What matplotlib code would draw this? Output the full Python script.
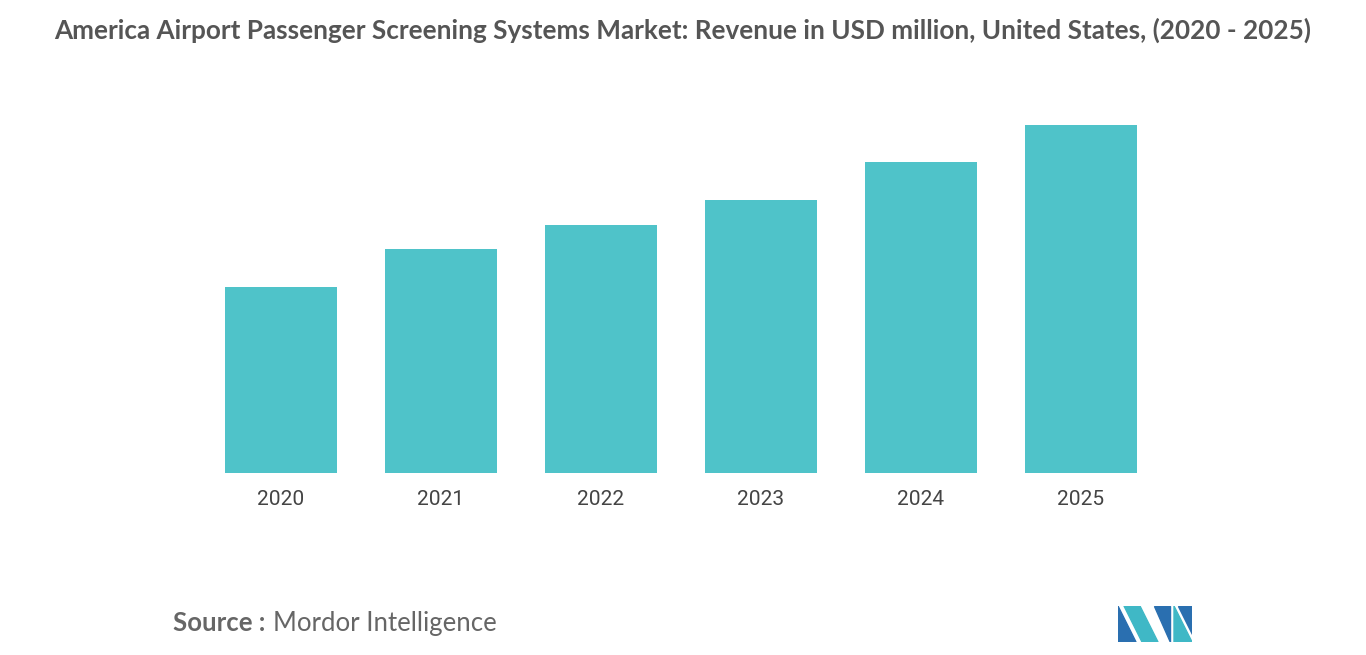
import matplotlib.pyplot as plt
from matplotlib.patches import Polygon

# Data (relative revenue)
years = ["2020", "2021", "2022", "2023", "2024", "2025"]
revenue = [186, 224, 248, 273, 311, 348]

W, H = 1366, 655
fig = plt.figure(figsize=(W / 100, H / 100), dpi=100)

# axes placed in pixel terms: x 201..1161, y 125..473
ax = fig.add_axes([201 / W, (H - 473) / H, 960 / W, 348 / H])
ax.bar(range(len(years)), revenue, width=0.7, color="#4fc3c9")
ax.set_xlim(-0.5, len(years) - 0.5)
ax.set_ylim(0, 348)
ax.set_xticks(range(len(years)))
ax.set_xticklabels(years, fontsize=15, color="#444444", fontname="Roboto")
ax.tick_params(axis="x", length=0, pad=12)
ax.set_yticks([])
for s in ax.spines.values():
    s.set_visible(False)

fig.text(683 / W, 1 - 30 / H,
         "America Airport Passenger Screening Systems Market: Revenue in USD million, United States, (2020 - 2025)",
         ha="center", va="center", fontsize=18.8, fontweight="bold", color="#555555", fontname="Lato")

fig.text(173 / W, 1 - 623 / H, "Source :", ha="left", va="center",
         fontsize=18.5, fontweight="bold", color="#666666", fontname="Lato")
fig.text(273 / W, 1 - 623 / H, "Mordor Intelligence", ha="left", va="center",
         fontsize=18.5, color="#666666", fontname="Lato")

# simple logo
lx = fig.add_axes([1118 / W, 1 - 642 / H, 74 / W, 36 / H])
lx.set_xlim(0, 74)
lx.set_ylim(0, 36)
lx.axis("off")
lx.add_patch(Polygon([(0, 0), (0, 36), (18, 0)], color="#2a6fb0"))
lx.add_patch(Polygon([(6, 36), (22, 36), (40, 0), (24, 0)], color="#3fb8c6"))
lx.add_patch(Polygon([(36, 36), (52, 36), (52, 0)], color="#2a6fb0"))
lx.add_patch(Polygon([(56, 0), (56, 36), (74, 0)], color="#3fb8c6"))
lx.add_patch(Polygon([(60, 36), (74, 36), (74, 8)], color="#2a6fb0"))

fig.savefig("out.png", dpi=100)
